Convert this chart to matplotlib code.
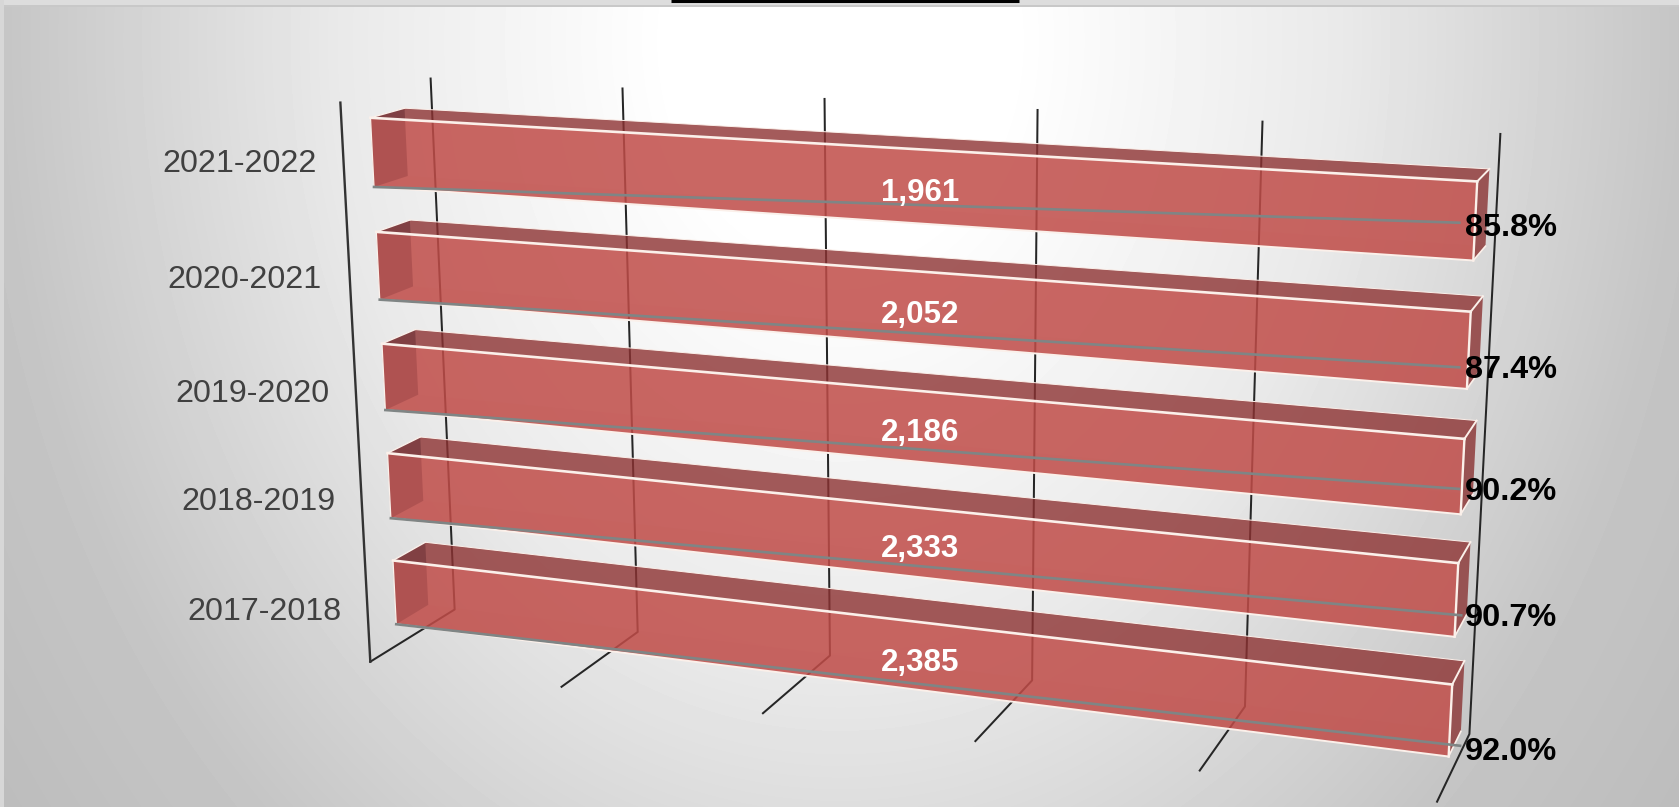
import matplotlib

matplotlib.use("Agg")
import matplotlib.pyplot as plt
import numpy as np

plt.rcParams["font.family"] = ["Liberation Sans", "DejaVu Sans"]

# Chart data, bottom bar first
categories = ["2017-2018", "2018-2019", "2019-2020", "2020-2021", "2021-2022"]
counts = [2385, 2333, 2186, 2052, 1961]
percents = [92.0, 90.7, 90.2, 87.4, 85.8]
bar_extent = [100, 100, 100, 100, 100]
grid_ticks = [0, 20, 40, 60, 80, 100]

# Where the grey leader of each bar ends (axis units)
leader_end_x = [100.9, 100.45, 99.75, 99.3, 98.75]
leader_end_z = [0.30, 1.38, 2.4, 3.362, 4.48]

# Label centres in figure pixels, same order as the data
category_label_xy = [(264, 608), (258, 499), (252, 390), (245, 277), (240, 161)]
count_label_xy = [(920, 659), (920, 546), (920, 430), (920, 311), (920, 190)]
percent_label_xy = [(1465, 748), (1465, 614), (1465, 489), (1465, 367), (1465, 224)]

W, H = 1679, 807
BAR_HEIGHT = 0.604
DEPTH_FRONT = 0.3087
DEPTH_BACK = 0.6873

FRONT = (192 / 255, 76 / 255, 72 / 255, 0.85)
TOP = (141 / 255, 50 / 255, 50 / 255, 0.80)
LEFT = (70 / 255, 110 / 255, 125 / 255, 0.90)
RIGHT = (142 / 255, 60 / 255, 60 / 255, 0.85)
BOTTOM = (192 / 255, 76 / 255, 72 / 255, 0.05)
BACK = (0, 0, 0, 0)
EDGE = "#fbf0ea"
GRID = "#262626"


def draw_background(fig):
    """Radial grey page gradient with the slide border at the top and left."""
    bg = fig.add_axes([0, 0, 1, 1], zorder=-1)
    yy, xx = np.mgrid[0:H, 0:W]
    r = np.hypot((xx - 840) / 840, (yy - 40) / 1055)
    grey = np.interp(r, [0.2, 0.6, 1.0, 1.25], [255, 233, 197, 188])
    grey[:6, :] = 221
    grey[5:7, :] = 200
    grey[:, :4] = 215
    bg.imshow(grey, cmap="gray", vmin=0, vmax=255, aspect="auto", extent=(0, W, H, 0))
    bg.plot([671, 1019], [1, 1], color="black", lw=2.2, solid_capstyle="butt")
    bg.set_xlim(0, W)
    bg.set_ylim(H, 0)
    bg.axis("off")


def draw_grid(ax):
    """Floor and back wall lines, plus the left corner upright."""
    ztop = len(categories)
    for tick in grid_ticks:
        ax.plot([tick, tick, tick], [0, 1, 1], [0, 0, ztop], color=GRID, lw=1.45, zorder=1)
    ax.plot([0, 0], [0, 0], [0, ztop], color="#333333", lw=1.7, zorder=1)


def draw_bar(ax, row, extent):
    zb = row + 0.5 - BAR_HEIGHT / 2
    zt = row + 0.5 + BAR_HEIGHT / 2
    d0, d1 = DEPTH_FRONT, DEPTH_BACK
    # face order in bar3d: -z, +z, -y, +y, -x, +x
    ax.bar3d(
        0, d0, zb, extent, d1 - d0, BAR_HEIGHT,
        color=[BOTTOM, TOP, FRONT, BACK, LEFT, RIGHT],
        shade=False, linewidth=0, zorder=2,
    )
    # Light edges that stay visible in the reference
    outline = [
        ([0, extent], [d0, d0], [zt, zt], 1.9),
        ([0, extent], [d0, d0], [zb, zb], 1.4),
        ([0, 0], [d0, d0], [zb, zt], 0.9),
        ([extent, extent], [d0, d0], [zb, zt], 1.7),
        ([0, 0], [d0, d1], [zt, zt], 1.0),
        ([extent, extent], [d0, d1], [zt, zt], 1.4),
        ([extent, extent], [d0, d1], [zb, zb], 1.2),
        ([0, extent], [d1, d1], [zt, zt], 0.7),
    ]
    for xs, ys, zs, lw in outline:
        ax.plot(xs, ys, zs, color=EDGE, lw=lw, zorder=3)


def main():
    fig = plt.figure(figsize=(W / 100, H / 100), dpi=100)
    draw_background(fig)

    # Square 3D axes larger than the figure, so the camera fit sets the layout
    left = 36.57
    bottom = -(W - H) / 2 - 34.09
    ax = fig.add_axes([left / W, bottom / H, 1, W / H], projection="3d", computed_zorder=False)
    ax.set_xlim(0, 100)
    ax.set_ylim(0, 1)
    ax.set_zlim(0, len(categories))
    ax.view_init(elev=14.767, azim=-69.684, roll=0.1769)
    ax.set_proj_type("persp", focal_length=0.312)
    ax.set_box_aspect((1.8951, 0.3072, 1), zoom=0.7487)
    ax.set_axis_off()
    ax.patch.set_alpha(0)

    draw_grid(ax)
    for row, extent in enumerate(bar_extent):
        draw_bar(ax, row, extent)
        zb = row + 0.5 - BAR_HEIGHT / 2
        ax.plot(
            [0, leader_end_x[row]], [DEPTH_FRONT, DEPTH_FRONT], [zb, leader_end_z[row]],
            color="#7f8585", lw=1.9, zorder=4,
        )

    for row, name in enumerate(categories):
        x, y = category_label_xy[row]
        fig.text(x / W, 1 - y / H, name, ha="center", va="center_baseline",
                 fontsize=23.2, color="#404040")
        x, y = count_label_xy[row]
        fig.text(x / W, 1 - y / H, f"{counts[row]:,}", ha="center", va="center_baseline",
                 fontsize=22.5, fontweight="bold", color="white")
        x, y = percent_label_xy[row]
        fig.text(x / W, 1 - y / H, f"{percents[row]:.1f}%", ha="left", va="center_baseline",
                 fontsize=23.4, fontweight="bold", color="black")

    fig.savefig("out.png", dpi=100)


main()
